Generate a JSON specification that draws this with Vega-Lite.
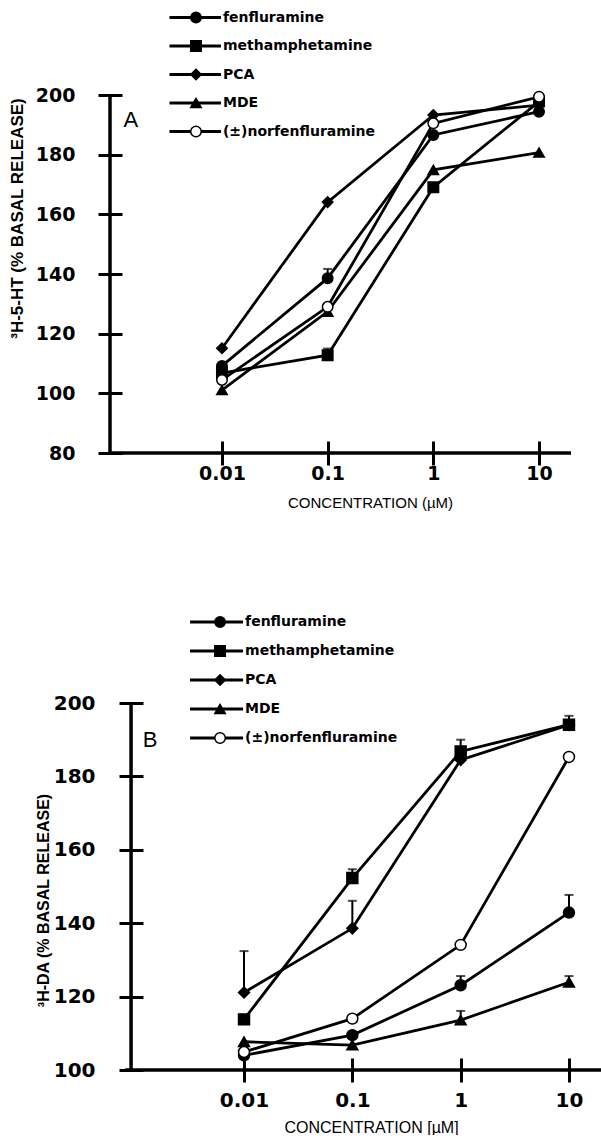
{
  "$schema": "https://vega.github.io/schema/vega-lite/v6.json",
  "padding": {"left": 8, "top": 9, "right": 0, "bottom": 0},
  "background": "white",
  "bounds": "flush",
  "spacing": 250,
  "datasets": {
    "legend": [
      {"series": "fenfluramine", "row": 1},
      {"series": "methamphetamine", "row": 2},
      {"series": "PCA", "row": 3},
      {"series": "MDE", "row": 4},
      {"series": "(±)norfenfluramine", "row": 5}
    ],
    "a": [
      {"series": "fenfluramine", "conc": 0.01, "value": 109.2, "hi": null},
      {"series": "fenfluramine", "conc": 0.1, "value": 138.6, "hi": 141.7},
      {"series": "fenfluramine", "conc": 1, "value": 186.6, "hi": null},
      {"series": "fenfluramine", "conc": 10, "value": 194.4, "hi": null},
      {"series": "methamphetamine", "conc": 0.01, "value": 106.8, "hi": null},
      {"series": "methamphetamine", "conc": 0.1, "value": 112.8, "hi": 115},
      {"series": "methamphetamine", "conc": 1, "value": 169.1, "hi": null},
      {"series": "methamphetamine", "conc": 10, "value": 197.8, "hi": null},
      {"series": "PCA", "conc": 0.01, "value": 115.1, "hi": null},
      {"series": "PCA", "conc": 0.1, "value": 164.1, "hi": null},
      {"series": "PCA", "conc": 1, "value": 193.3, "hi": null},
      {"series": "PCA", "conc": 10, "value": 196.6, "hi": null},
      {"series": "MDE", "conc": 0.01, "value": 101.1, "hi": null},
      {"series": "MDE", "conc": 0.1, "value": 127.4, "hi": null},
      {"series": "MDE", "conc": 1, "value": 174.9, "hi": null},
      {"series": "MDE", "conc": 10, "value": 180.7, "hi": null},
      {"series": "(±)norfenfluramine", "conc": 0.01, "value": 104.5, "hi": null},
      {"series": "(±)norfenfluramine", "conc": 0.1, "value": 129.0, "hi": null},
      {"series": "(±)norfenfluramine", "conc": 1, "value": 190.5, "hi": null},
      {"series": "(±)norfenfluramine", "conc": 10, "value": 199.4, "hi": null}
    ],
    "b": [
      {"series": "fenfluramine", "conc": 0.01, "value": 104.0, "hi": null},
      {"series": "fenfluramine", "conc": 0.1, "value": 109.5, "hi": null},
      {"series": "fenfluramine", "conc": 1, "value": 123.1, "hi": 125.6},
      {"series": "fenfluramine", "conc": 10, "value": 142.9, "hi": 147.7},
      {"series": "methamphetamine", "conc": 0.01, "value": 113.8, "hi": null},
      {"series": "methamphetamine", "conc": 0.1, "value": 152.3, "hi": 154.7},
      {"series": "methamphetamine", "conc": 1, "value": 186.8, "hi": 190},
      {"series": "methamphetamine", "conc": 10, "value": 194.1, "hi": 196.5},
      {"series": "PCA", "conc": 0.01, "value": 121.1, "hi": 132.4},
      {"series": "PCA", "conc": 0.1, "value": 138.6, "hi": 146.1},
      {"series": "PCA", "conc": 1, "value": 184.5, "hi": null},
      {"series": "PCA", "conc": 10, "value": 194.0, "hi": null},
      {"series": "MDE", "conc": 0.01, "value": 107.7, "hi": null},
      {"series": "MDE", "conc": 0.1, "value": 106.8, "hi": null},
      {"series": "MDE", "conc": 1, "value": 113.6, "hi": 116.1},
      {"series": "MDE", "conc": 10, "value": 123.9, "hi": 125.6},
      {"series": "(±)norfenfluramine", "conc": 0.01, "value": 104.9, "hi": null},
      {"series": "(±)norfenfluramine", "conc": 0.1, "value": 114.0, "hi": null},
      {"series": "(±)norfenfluramine", "conc": 1, "value": 134.1, "hi": null},
      {"series": "(±)norfenfluramine", "conc": 10, "value": 185.3, "hi": null}
    ]
  },
  "vconcat": [
    {
      "width": 461,
      "height": 358,
      "resolve": {"scale": {"y": "independent"}},
      "layer": [
        {
          "data": {"name": "a"},
          "layer": [
            {
              "mark": {"type": "rule", "color": "black", "strokeWidth": 3.5},
              "data": {"values": [{}]},
              "encoding": {"x": {"datum": 0.000872, "type": "quantitative", "scale": {"type": "log", "domain": [0.000872, 20.08], "nice": false}}}
            },
            {
              "mark": {"type": "rule", "color": "black", "strokeWidth": 3.5},
              "data": {"values": [{}]},
              "encoding": {"y": {"datum": 80, "type": "quantitative", "scale": {"domain": [80, 200], "nice": false, "zero": false}}}
            },
            {
              "mark": {"type": "line", "color": "black", "strokeWidth": 2.8},
              "encoding": {
                "x": {"field": "conc", "type": "quantitative", "scale": {"type": "log", "domain": [0.000872, 20.08], "nice": false},
                  "axis": {"values": [0.01, 0.1, 1, 10], "format": "~g", "offset": -12, "labelPadding": -1,
                    "title": "CONCENTRATION (µM)", "titleFont": "Liberation Sans", "titleFontSize": 15, "titleFontWeight": "normal",
                    "titleX": 260, "titleY": 61, "titleBaseline": "middle", "titleAlign": "center"}},
                "y": {"field": "value", "type": "quantitative", "scale": {"domain": [80, 200], "nice": false, "zero": false},
                  "axis": {"values": [80, 100, 120, 140, 160, 180, 200], "offset": -12, "labelPadding": 23,
                    "title": "³H-5-HT (% BASAL RELEASE)", "titleFont": "Liberation Sans", "titleFontSize": 17, "titleFontWeight": "bold",
                    "titleX": -105, "titleY": 123, "titleAngle": 270, "titleBaseline": "middle", "titleAlign": "center"}},
                "detail": {"field": "series"}
              }
            },
            {
              "transform": [{"filter": "datum.hi != null"}],
              "mark": {"type": "rule", "color": "black", "strokeWidth": 2},
              "encoding": {
                "x": {"field": "conc", "type": "quantitative"},
                "y": {"field": "value", "type": "quantitative"},
                "y2": {"field": "hi"}
              }
            },
            {
              "transform": [{"filter": "datum.hi != null"}],
              "mark": {"type": "tick", "orient": "horizontal", "color": "black", "thickness": 2, "size": 9},
              "encoding": {
                "x": {"field": "conc", "type": "quantitative"},
                "y": {"field": "hi", "type": "quantitative"}
              }
            },
            {
              "mark": {"type": "point", "filled": true, "stroke": "black", "strokeWidth": 1.5, "opacity": 1, "size": 110},
              "encoding": {
                "x": {"field": "conc", "type": "quantitative"},
                "y": {"field": "value", "type": "quantitative"},
                "shape": {"field": "series", "type": "nominal",
                  "scale": {"domain": ["fenfluramine", "methamphetamine", "PCA", "MDE", "(±)norfenfluramine"], "range": ["circle", "square", "diamond", "triangle-up", "circle"]},
                  "legend": null},
                "fill": {"field": "series", "type": "nominal",
                  "scale": {"domain": ["fenfluramine", "methamphetamine", "PCA", "MDE", "(±)norfenfluramine"], "range": ["black", "black", "black", "black", "white"]},
                  "legend": null}
              }
            },
            {
              "mark": {"type": "text", "font": "Liberation Sans", "fontSize": 22, "align": "center", "baseline": "middle", "color": "black"},
              "data": {"values": [{"label": "A"}]},
              "encoding": {
                "x": {"datum": 0.001377, "type": "quantitative"},
                "y": {"datum": 191.6, "type": "quantitative"},
                "text": {"field": "label"}
              }
            }
          ]
        },
        {
          "data": {"name": "legend"},
          "encoding": {"y": {"field": "row", "type": "quantitative", "scale": {"domain": [1, 5], "range": [-77.5, 36.5]}, "axis": null}},
          "layer": [
            {
              "mark": {"type": "rule", "color": "black", "strokeWidth": 2.8},
              "encoding": {"x": {"datum": 0.003187, "type": "quantitative"}, "x2": {"datum": 0.009784}}
            },
            {
              "mark": {"type": "point", "filled": true, "stroke": "black", "strokeWidth": 1.5, "opacity": 1, "size": 110},
              "encoding": {
                "x": {"datum": 0.005675, "type": "quantitative"},
                "shape": {"field": "series", "type": "nominal",
                  "scale": {"domain": ["fenfluramine", "methamphetamine", "PCA", "MDE", "(±)norfenfluramine"], "range": ["circle", "square", "diamond", "triangle-up", "circle"]},
                  "legend": null},
                "fill": {"field": "series", "type": "nominal",
                  "scale": {"domain": ["fenfluramine", "methamphetamine", "PCA", "MDE", "(±)norfenfluramine"], "range": ["black", "black", "black", "black", "white"]},
                  "legend": null}
              }
            },
            {
              "mark": {"type": "text", "font": "DejaVu Sans", "fontSize": 14, "fontWeight": "bold", "align": "left", "baseline": "middle", "color": "black"},
              "encoding": {"x": {"datum": 0.01022, "type": "quantitative"}, "text": {"field": "series"}}
            }
          ]
        }
      ]
    },
    {
      "width": 491,
      "height": 367,
      "resolve": {"scale": {"y": "independent"}},
      "layer": [
        {
          "data": {"name": "b"},
          "layer": [
            {
              "mark": {"type": "rule", "color": "black", "strokeWidth": 3.5},
              "data": {"values": [{}]},
              "encoding": {"x": {"datum": 0.000906, "type": "quantitative", "scale": {"type": "log", "domain": [0.000579, 19.75], "nice": false}}}
            },
            {
              "mark": {"type": "rule", "color": "black", "strokeWidth": 3.5},
              "data": {"values": [{}]},
              "encoding": {
                "x": {"datum": 0.000796, "type": "quantitative"},
                "x2": {"datum": 19.75},
                "y": {"datum": 100, "type": "quantitative", "scale": {"domain": [100, 200], "nice": false, "zero": false}}
              }
            },
            {
              "mark": {"type": "line", "color": "black", "strokeWidth": 2.8},
              "encoding": {
                "x": {"field": "conc", "type": "quantitative", "scale": {"type": "log", "domain": [0.000579, 19.75], "nice": false},
                  "axis": {"values": [0.01, 0.1, 1, 10], "format": "~g", "offset": -12, "labelPadding": 8, "labelFontSize": 20,
                    "title": "CONCENTRATION [µM]", "titleFont": "Liberation Sans", "titleFontSize": 16, "titleFontWeight": "normal",
                    "titleX": 261, "titleY": 69, "titleBaseline": "middle", "titleAlign": "center"}},
                "y": {"field": "value", "type": "quantitative", "scale": {"domain": [100, 200], "nice": false, "zero": false},
                  "axis": {"values": [100, 120, 140, 160, 180, 200], "offset": -33, "labelPadding": 24, "labelFontSize": 20,
                    "title": "³H-DA (% BASAL RELEASE)", "titleFont": "Liberation Sans", "titleFontSize": 16, "titleFontWeight": "bold",
                    "titleX": -100, "titleY": 197, "titleAngle": 270, "titleBaseline": "middle", "titleAlign": "center"}},
                "detail": {"field": "series"}
              }
            },
            {
              "transform": [{"filter": "datum.hi != null"}],
              "mark": {"type": "rule", "color": "black", "strokeWidth": 2},
              "encoding": {
                "x": {"field": "conc", "type": "quantitative"},
                "y": {"field": "value", "type": "quantitative"},
                "y2": {"field": "hi"}
              }
            },
            {
              "transform": [{"filter": "datum.hi != null"}],
              "mark": {"type": "tick", "orient": "horizontal", "color": "black", "thickness": 2, "size": 9},
              "encoding": {
                "x": {"field": "conc", "type": "quantitative"},
                "y": {"field": "hi", "type": "quantitative"}
              }
            },
            {
              "mark": {"type": "point", "filled": true, "stroke": "black", "strokeWidth": 1.5, "opacity": 1, "size": 120},
              "encoding": {
                "x": {"field": "conc", "type": "quantitative"},
                "y": {"field": "value", "type": "quantitative"},
                "shape": {"field": "series", "type": "nominal",
                  "scale": {"domain": ["fenfluramine", "methamphetamine", "PCA", "MDE", "(±)norfenfluramine"], "range": ["circle", "square", "diamond", "triangle-up", "circle"]},
                  "legend": null},
                "fill": {"field": "series", "type": "nominal",
                  "scale": {"domain": ["fenfluramine", "methamphetamine", "PCA", "MDE", "(±)norfenfluramine"], "range": ["black", "black", "black", "black", "white"]},
                  "legend": null}
              }
            },
            {
              "mark": {"type": "text", "font": "Liberation Sans", "fontSize": 22, "align": "center", "baseline": "middle", "color": "black"},
              "data": {"values": [{"label": "B"}]},
              "encoding": {
                "x": {"datum": 0.001356, "type": "quantitative"},
                "y": {"datum": 189.9, "type": "quantitative"},
                "text": {"field": "label"}
              }
            }
          ]
        },
        {
          "data": {"name": "legend"},
          "encoding": {"y": {"field": "row", "type": "quantitative", "scale": {"domain": [1, 5], "range": [-81, 35]}, "axis": null}},
          "layer": [
            {
              "mark": {"type": "rule", "color": "black", "strokeWidth": 2.8},
              "encoding": {"x": {"datum": 0.003175, "type": "quantitative"}, "x2": {"datum": 0.009797}}
            },
            {
              "mark": {"type": "point", "filled": true, "stroke": "black", "strokeWidth": 1.5, "opacity": 1, "size": 110},
              "encoding": {
                "x": {"datum": 0.006009, "type": "quantitative"},
                "shape": {"field": "series", "type": "nominal",
                  "scale": {"domain": ["fenfluramine", "methamphetamine", "PCA", "MDE", "(±)norfenfluramine"], "range": ["circle", "square", "diamond", "triangle-up", "circle"]},
                  "legend": null},
                "fill": {"field": "series", "type": "nominal",
                  "scale": {"domain": ["fenfluramine", "methamphetamine", "PCA", "MDE", "(±)norfenfluramine"], "range": ["black", "black", "black", "black", "white"]},
                  "legend": null}
              }
            },
            {
              "mark": {"type": "text", "font": "DejaVu Sans", "fontSize": 14, "fontWeight": "bold", "align": "left", "baseline": "middle", "color": "black"},
              "encoding": {"x": {"datum": 0.01022, "type": "quantitative"}, "text": {"field": "series"}}
            }
          ]
        }
      ]
    }
  ],
  "resolve": {
    "scale": {"x": "independent", "y": "independent", "shape": "independent", "fill": "independent"}
  },
  "config": {
    "view": {"stroke": null},
    "axis": {"grid": false, "domain": false, "ticks": true, "tickColor": "black", "tickWidth": 3, "tickSize": 24,
      "labelColor": "black", "titleColor": "black", "labelFont": "DejaVu Sans", "labelFontSize": 19, "labelFontWeight": "bold"}
  }
}
